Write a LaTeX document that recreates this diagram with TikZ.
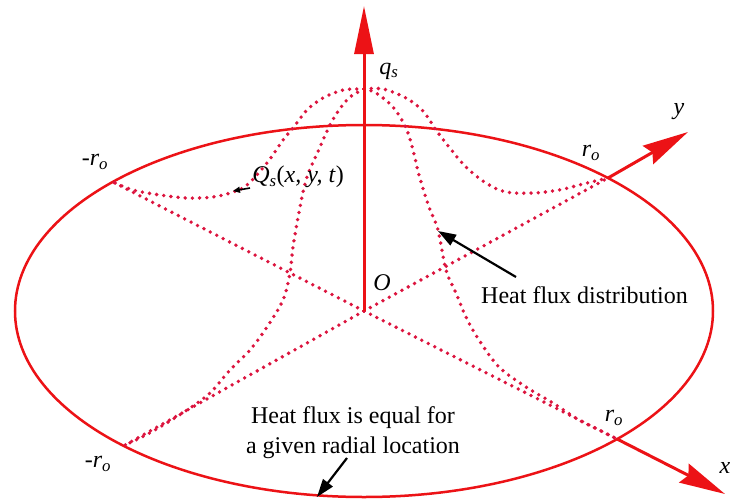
\documentclass[tikz,border=0pt]{standalone}
\usepackage{fontspec}
\setmainfont{Liberation Serif}
\usetikzlibrary{arrows.meta}
\definecolor{axisred}{RGB}{236,18,22}
\definecolor{dotred}{RGB}{220,20,62}
\begin{document}
\begin{tikzpicture}[x=1pt,y=-1pt,
  rim/.style={draw=axisred,line width=2.5pt},
  axisv/.style={draw=axisred,line width=3pt,-{Triangle[length=48pt,width=19pt]}},
  axisd/.style={draw=axisred,line width=3pt,-{Stealth[length=46pt,width=21pt,inset=5pt]}},
  dots/.style={draw=dotred,line width=3.8pt,line cap=round,dash pattern=on 0pt off 7.2pt},
  lbl/.style={font=\fontsize{24}{28}\selectfont\itshape,inner sep=0pt},
  txt/.style={font=\fontsize{24}{30}\selectfont,inner sep=0pt,align=center},
  pointer/.style={draw=black,line width=2.2pt,-{Triangle[length=18pt,width=12pt]}},
  smallpointer/.style={draw=black,line width=1.6pt,-{Triangle[length=7pt,width=6pt]}}]
\useasboundingbox (0,0) rectangle (732,499);
\fill[white] (0,0) rectangle (732,499);

% key points
\coordinate (O) at (364,311);
\coordinate (P) at (364,89);
\coordinate (UL) at (113,182);
\coordinate (UR) at (608,178);
\coordinate (LL) at (125,445);
\coordinate (LR) at (617,439);
\coordinate (ztip) at (364,6);
\coordinate (ytip) at (688,132);
\coordinate (xtip) at (725,494);

% rim
\draw[rim] (O) ellipse [x radius=349pt, y radius=186pt];

% straight dotted radii
\draw[dots] (O) -- (UL);
\draw[dots] (O) -- (UR);
\draw[dots] (O) -- (LL);
\draw[dots] (O) -- (LR);

% bell curves
\draw[dots] plot[smooth,tension=0.55] coordinates {(P) (343,90) (323,98) (307,110) (293,128) (283,140) (267,163) (247,185) (233,192) (213,197) (187,198) (160,195) (133,190) (UL)};
\draw[dots] plot[smooth,tension=0.55] coordinates {(P) (383,89) (406,98) (423,111) (436,130) (449,147) (466,167) (486,183) (506,192) (533,193) (559,190) (583,184) (UR)};
\draw[dots] plot[smooth,tension=0.55] coordinates {(P) (350,97) (339,110) (330,125) (320,147) (307,177) (300,207) (293,247) (290,273) (283,300) (267,327) (250,350) (230,370) (210,393) (187,410) (160,427) (140,438) (LL)};
\draw[dots] plot[smooth,tension=0.55] coordinates {(P) (376,93) (393,107) (406,128) (413,150) (419,175) (429,207) (438,230) (446,270) (456,293) (466,317) (479,340) (499,367) (526,387) (553,403) (579,420) (599,430) (LR)};

% axes
\draw[axisv] (O) -- (ztip);
\draw[axisd] (UR) -- (ytip);
\draw[axisd] (LR) -- (xtip);

% labels
\node[lbl] (qs) at (389,71) {q\textsubscript{s}};
\node[lbl] (ylab) at (679,112) {y};
\node[lbl] (xlab) at (725,468) {x};
\node[lbl] (rur) at (591,153) {r\textsubscript{o}};
\node[lbl] (rul) at (95,162) {-r\textsubscript{o}};
\node[lbl] (rlr) at (614,418) {r\textsubscript{o}};
\node[lbl] (rll) at (98,464) {-r\textsubscript{o}};
\node[lbl] (olab) at (382,283) {O};
\node[lbl] (Qs) at (298,177) {Q\textsubscript{s}\textup{(}x, y, t\textup{)}};

\node[txt,anchor=base west] (hfd) at (481,303) {Heat flux distribution};
\node[txt] (hfe) at (353,433) {Heat flux is equal for\\a given radial location};

% pointers
\coordinate (p1s) at (250,188);
\coordinate (p1t) at (233,191);
\draw[smallpointer] (p1s) -- (p1t);
\coordinate (p2s) at (516,277);
\coordinate (p2t) at (438,231);
\draw[pointer] (p2s) -- (p2t);
\coordinate (p3s) at (347,458);
\coordinate (p3t) at (317,497);
\draw[pointer] (p3s) -- (p3t);
\end{tikzpicture}
\end{document}
